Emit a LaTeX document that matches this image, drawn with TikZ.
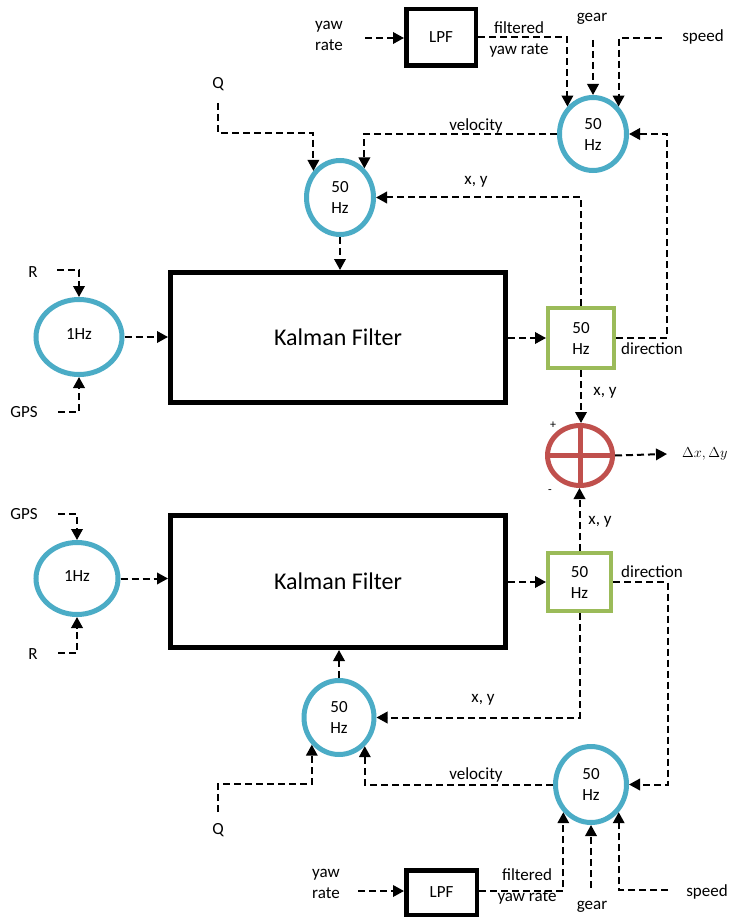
\documentclass[tikz,border=0pt]{standalone}
\usepackage{fontspec}
\setmainfont{Carlito}
\usetikzlibrary{shapes.geometric,arrows.meta,calc}
\definecolor{ringblue}{HTML}{4BACC6}
\definecolor{boxgreen}{HTML}{9BBB59}
\definecolor{sumred}{HTML}{C0504D}

\begin{document}
\begin{tikzpicture}[x=1pt,y=-1pt,
  every node/.style={font=\fontsize{17}{21}\selectfont, inner sep=0pt},
  ring/.style={ellipse, draw=ringblue, line width=5pt, align=center},
  kbox/.style={rectangle, draw=black, line width=5pt, font=\fontsize{24}{28}\selectfont},
  lpfbox/.style={rectangle, draw=black, line width=4.5pt},
  gbox/.style={rectangle, draw=boxgreen, line width=4pt, align=center},
  sumring/.style={ellipse, draw=sumred, line width=5pt},
  sig/.style={draw=black, line width=2pt, dash pattern=on 7pt off 4pt},
  arr/.style={sig, -{Triangle[length=11pt,width=11.5pt]}},
  lbl/.style={align=left},
  sign/.style={font=\fontsize{12}{14}\selectfont}
]
\path[use as bounding box] (0,0) rectangle (732,917);
\clip (0,0) rectangle (732,917);
\fill[white] (0,0) rectangle (732,917);

% ---------- upper filter chain ----------
\node[lpfbox, minimum width=69.5pt, minimum height=56.5pt] (lpfT) at (441,37.5) {LPF};
\node[ring, minimum width=67pt, minimum height=73pt] (vT) at (593,134) {50\\Hz};
\node[ring, minimum width=67pt, minimum height=74pt] (kT) at (340,197.5) {50\\Hz};
\node[kbox, minimum width=335pt, minimum height=130pt] (kfT) at (338,337.5) {\raisebox{-3pt}{Kalman Filter}};
\node[ring, minimum width=86pt, minimum height=75pt] (hzT) at (79,337) {\raisebox{5pt}{1Hz}};
\node[gbox, minimum width=66pt, minimum height=60pt] (gT) at (581,338) {50\\Hz};

% ---------- difference junction ----------
\node[sumring, minimum width=65pt, minimum height=60pt] (sum) at (580,455.5) {};
\draw[sumred, line width=5pt] (sum.north) -- (sum.south) (sum.west) -- (sum.east);

% ---------- lower filter chain ----------
\node[kbox, minimum width=335pt, minimum height=132pt] (kfB) at (338,581.5) {\raisebox{-2pt}{Kalman Filter}};
\node[ring, minimum width=82pt, minimum height=72pt] (hzB) at (77,578.5) {\raisebox{5pt}{1Hz}};
\node[gbox, minimum width=63pt, minimum height=58pt] (gB) at (579.5,582) {50\\Hz};
\node[ring, minimum width=70pt, minimum height=74pt] (kB) at (339,717.5) {50\\Hz};
\node[ring, minimum width=71pt, minimum height=76pt] (vB) at (591,784.5) {50\\Hz};
\node[lpfbox, minimum width=70.5pt, minimum height=44.5pt] (lpfB) at (441.5,892.5) {LPF};

% ---------- labels ----------
\node[lbl] (yawTl) at (329,36) {yaw\\rate};
\node[align=center] (filtT) at (519,39.5) {filtered\\yaw rate};
\node (gearT) at (592,19) {gear};
\node (speedT) at (703,37) {speed};
\node (velT) at (476,126) {velocity};
\node (qT) at (218,84) {Q};
\node (xyT1) at (476,182) {x, y};
\node (rT) at (33,272) {R};
\node (gpsT) at (24,412) {GPS};
\node (dirT) at (652,349) {direction};
\node (xyT2) at (605,393) {x, y};
\node[sign] (plus) at (553,425) {+};
\node[sign] (minus) at (550,492) {-};
\node[anchor=west, font=\fontsize{15}{18}\selectfont] (dxy) at (682,454) {$\Delta x, \Delta y$};

\node (gpsB) at (24,514) {GPS};
\node (rB) at (33,654) {R};
\node (xyB1) at (600,522) {x, y};
\node (dirB) at (652,572) {direction};
\node (xyB2) at (483,700) {x, y};
\node (velB) at (476,775) {velocity};
\node (qB) at (218,830) {Q};
\node[lbl] (yawBl) at (326,884) {yaw\\rate};
\node[align=center] (filtB) at (527,886) {filtered\\yaw rate};
\node (gearB) at (592,907) {gear};
\node (speedB) at (707,892) {speed};

% ---------- free signal ends ----------
\coordinate (yawTs) at (365,38);
\coordinate (gearTs) at (593,40);
\coordinate (speedTs) at (662,38);
\coordinate (qTs) at (218,103);
\coordinate (qTb) at (218,133);
\coordinate (rTs) at (57,270);
\coordinate (gpsTs) at (58,412);

\coordinate (gpsBs) at (58,514);
\coordinate (rBs) at (58,653);
\coordinate (qBs) at (218,812);
\coordinate (qBb) at (218,784);
\coordinate (yawBs) at (358,891);
\coordinate (gearBs) at (591,888);
\coordinate (speedBs) at (668,890);

% ---------- upper signal paths ----------
\draw[arr] (yawTs) -- (yawTs -| lpfT.west);
\draw[arr] (lpfT.east) -| (vT.133);
\draw[arr] (gearTs) -- (vT.north);
\draw[arr] (speedTs) -| (vT.47);
\draw[arr] (gT.east) -| ($(vT.east)+(38,0)$) -- (vT.east);
\draw[arr] (vT.west) -| (kT.50);
\draw[arr] (qTs) -- (qTb) -| (kT.135);
\draw[arr] (kT.south) -- (kT.south |- kfT.north);
\draw[arr] (gT.north) |- (kT.east);
\draw[arr] (rTs) -| (hzT.north);
\draw[arr] (gpsTs) -| (hzT.south);
\draw[arr] (hzT.east) -- (hzT.east -| kfT.west);
\draw[arr] (gT.west -| kfT.east) -- (gT.west);

% ---------- junction ----------
\draw[arr] (gT.south) -- (gT.south |- sum.north);
\draw[arr] (gB.north) -- (gB.north |- sum.south);
\draw[arr] (sum.east) -- ([xshift=-15pt]dxy.west);

% ---------- lower signal paths ----------
\draw[arr] (gpsBs) -| (hzB.north);
\draw[arr] (rBs) -| (hzB.south);
\draw[arr] (hzB.east) -- (hzB.east -| kfB.west);
\draw[arr] (gB.west -| kfB.east) -- (gB.west);
\draw[arr] (gB.east) -| ($(vB.east)+(38.5,0)$) -- (vB.east);
\draw[arr] (gB.south) |- (kB.east);
\draw[arr] (kB.north) -- (kB.north |- kfB.south);
\draw[arr] (qBs) -- (qBb) -| (kB.225);
\draw[arr] (vB.west) -| (kB.312);
\draw[arr] (yawBs) -- (yawBs -| lpfB.west);
\draw[arr] (lpfB.east |- yawBs) -| (vB.225);
\draw[arr] (gearBs) -- (vB.south);
\draw[arr] (speedBs) -| (vB.315);
\end{tikzpicture}
\end{document}
